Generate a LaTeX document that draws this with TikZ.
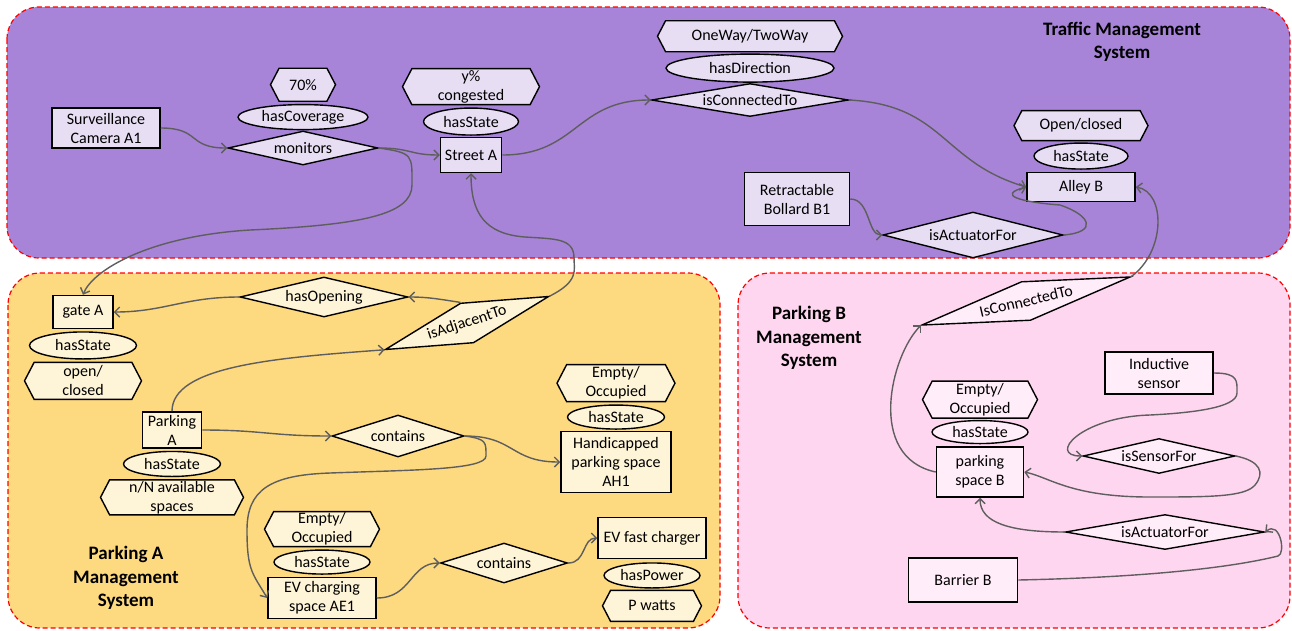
\documentclass[tikz,border=0pt]{standalone}
\usepackage{fontspec}
\setmainfont{Carlito}
\usetikzlibrary{positioning, shapes.geometric, shapes.symbols, arrows.meta}

\definecolor{trafficbg}{HTML}{A784D7}
\definecolor{trafficnode}{HTML}{E7DEF3}
\definecolor{parkAbg}{HTML}{FDD980}
\definecolor{parkAnode}{HTML}{FEF4D7}
\definecolor{parkBbg}{HTML}{FFD6F0}
\definecolor{parkBnode}{HTML}{FFEEF9}
\definecolor{linkgray}{HTML}{5E5E5E}

\begin{document}
\begin{tikzpicture}[x=1pt, y=-1pt,
    every node/.style={font=\fontsize{16}{19}\selectfont, align=center, inner sep=0pt},
    obj/.style={rectangle, draw, line width=1.5pt},
    rel/.style={diamond, aspect=5, draw, line width=1.4pt},
    prop/.style={ellipse, draw, line width=1.4pt},
    val/.style={signal, signal to=west and east, signal pointer angle=125, draw, line width=1.4pt},
    link/.style={draw=linkgray, line width=1.4pt, -{Straight Barb[length=5pt,width=10pt]}},
    zone/.style={draw=red, line width=1.2pt, dash pattern=on 5pt off 3pt, rounded corners=32pt},
    systitle/.style={font=\fontsize{19}{23.5}\selectfont\bfseries, fill=none},
]
    \useasboundingbox (0,0) rectangle (1292,630);

    % System areas
    \draw [zone, fill=trafficbg] (7,7) rectangle (1290,258);
    \draw [zone, fill=parkAbg] (8,273) rectangle (720,628);
    \draw [zone, fill=parkBbg] (738,273) rectangle (1290,628);

    % Traffic Management (Top)
    \begin{scope}[nodes={fill=trafficnode}]
        \node (trafficT) [systitle] at (1122,42) {Traffic Management\\System};
        \node (camA) [obj, minimum width=108pt, minimum height=40pt] at (106,128) {Surveillance\\Camera A1};
        \node (mon) [rel, minimum width=150pt, minimum height=34pt] at (303,148) {monitors};
        \node (hasCov) [prop, minimum width=130pt, minimum height=25pt, above=0pt of mon] {hasCoverage};
        \node (cov) [val, minimum width=65pt, minimum height=33pt, above=2pt of hasCov] {70\%};
        \node (streetA) [obj, minimum width=61pt, minimum height=35pt] at (471,155) {Street A};
        \node (stSA) [prop, minimum width=95pt, minimum height=27pt, above=1pt of streetA] {hasState};
        \node (cong) [val, minimum width=137pt, minimum height=36pt, above=2pt of stSA] {y\%\\congested};
        \node (connTo) [rel, minimum width=197pt, minimum height=33pt] at (750,100) {isConnectedTo};
        \node (hasDir) [prop, minimum width=168pt, minimum height=28pt, above=0pt of connTo] {hasDirection};
        \node (dir) [val, minimum width=185pt, minimum height=31pt, above=1pt of hasDir] {OneWay/TwoWay};
        \node (alleyB) [obj, minimum width=108pt, minimum height=29pt] at (1081,187) {Alley B};
        \node (stAB) [prop, minimum width=94pt, minimum height=26pt, above=2pt of alleyB] {hasState};
        \node (openc) [val, minimum width=134pt, minimum height=30pt, above=1pt of stAB] {Open/closed};
        \node (bollard) [obj, minimum width=105pt, minimum height=53pt] at (797,199) {Retractable\\Bollard B1};
        \node (actA) [rel, minimum width=180pt, minimum height=46pt] at (973,235) {isActuatorFor};
    \end{scope}

    % Parking A (Bottom Left)
    \begin{scope}[nodes={fill=parkAnode}]
        \node (parkAT) [systitle] at (126,578) {Parking A\\Management\\System};
        \node (gateA) [obj, minimum width=60pt, minimum height=33pt] at (83,312) {gate A};
        \node (stG) [prop, minimum width=107pt, minimum height=27pt, below=2pt of gateA] {hasState};
        \node (gstate) [val, minimum width=117pt, minimum height=37pt, below=2pt of stG] {open/\\closed};
        \node (hasOp) [rel, minimum width=168pt, minimum height=40pt] at (324,297) {hasOpening};
        \node (isAdj) [rel, minimum width=172pt, minimum height=42pt, rotate=18] at (467,323) {isAdjacentTo};
        \node (parkA) [obj, minimum width=59pt, minimum height=36pt] at (172,430) {Parking\\A};
        \node (stP) [prop, minimum width=97pt, minimum height=25pt, below=2pt of parkA] {hasState};
        \node (avail) [val, minimum width=143pt, minimum height=35pt, below=2pt of stP] {n/N available\\spaces};
        \node (cont1) [rel, minimum width=132pt, minimum height=42pt] at (398,436) {contains};
        \node (handi) [obj, minimum width=110pt, minimum height=61pt] at (616,462) {Handicapped\\parking space\\AH1};
        \node (stH) [prop, minimum width=97pt, minimum height=24pt, above=1pt of handi] {hasState};
        \node (emH) [val, minimum width=118pt, minimum height=37pt, above=2pt of stH] {Empty/\\Occupied};
        \node (evAE1) [obj, minimum width=108pt, minimum height=41pt] at (322,598) {EV charging\\space AE1};
        \node (stE) [prop, minimum width=96pt, minimum height=24pt, above=2pt of evAE1] {hasState};
        \node (emE) [val, minimum width=115pt, minimum height=35pt, above=2pt of stE] {Empty/\\Occupied};
        \node (cont2) [rel, minimum width=127pt, minimum height=40pt] at (504,563) {contains};
        \node (evfc) [obj, minimum width=108pt, minimum height=41pt] at (652,538) {EV fast charger};
        \node (hasPow) [prop, minimum width=96pt, minimum height=25pt, below=3pt of evfc] {hasPower};
        \node (pw) [val, minimum width=99pt, minimum height=31pt, below=1pt of hasPow] {P watts};
    \end{scope}

    % Parking B (Bottom Right)
    \begin{scope}[nodes={fill=parkBnode}]
        \node (parkBT) [systitle] at (809,338) {Parking B\\Management\\System};
        \node (isConB) [rel, minimum width=214pt, minimum height=40pt, rotate=13] at (1026,301) {IsConnectedTo};
        \node (indS) [obj, minimum width=108pt, minimum height=42pt] at (1159,373) {Inductive\\sensor};
        \node (psB) [obj, minimum width=87pt, minimum height=50pt] at (980,472) {parking\\space B};
        \node (stB) [prop, minimum width=96pt, minimum height=23pt, above=2pt of psB] {hasState};
        \node (emB) [val, minimum width=115pt, minimum height=37pt, above=1pt of stB] {Empty/\\Occupied};
        \node (isSF) [rel, minimum width=152pt, minimum height=35pt] at (1159,456) {isSensorFor};
        \node (actB) [rel, minimum width=199pt, minimum height=35pt] at (1165,532) {isActuatorFor};
        \node (barB) [obj, minimum width=109pt, minimum height=44pt] at (963,580) {Barrier B};
    \end{scope}

    % Connectors (Top)
    \draw [link] (camA.east) .. controls +(40,0) and +(-40,0) .. (mon.west);
    \draw [link] (mon.east) .. controls +(32,0) and +(-30,0) .. (streetA.west);
    \draw [link] (mon.east) .. controls +(35,5) and +(0,-30) .. (412,185)
        .. controls +(0,30) and +(110,-5) .. (250,230)
        .. controls +(-100,6) and +(10,-25) .. (gateA.north);
    \draw [link] (streetA.east) .. controls +(75,0) and +(-75,0) .. (connTo.west);
    \draw [link] (connTo.east) .. controls +(95,5) and +(-85,-25) .. (alleyB.west);
    \draw [link] (bollard.east) .. controls +(20,0) and +(-15,0) .. (actA.west);
    \draw [link] (actA.east) .. controls +(35,-3) and +(30,10) .. (1060,205)
        .. controls +(-40,-3) and +(-30,8) .. (alleyB.west);
    \draw [link] (isConB.east) .. controls +(35,-25) and +(30,5) .. (alleyB.east);
    \draw [link] (isAdj.east) .. controls +(30,-15) and +(0,12) .. (574,258)
        .. controls +(0,-20) and +(30,2) .. (525,237)
        .. controls +(-40,-3) and +(0,40) .. (streetA.south);

    % Connectors (Parking A)
    \draw [link] (isAdj.north) .. controls +(-20,-3) and +(20,0) .. (hasOp.east);
    \draw [link] (hasOp.west) .. controls +(-55,0) and +(50,0) .. (gateA.east);
    \draw [link] (parkA.north) .. controls +(0,-45) and +(-110,8) .. (isAdj.west);
    \draw [link] (parkA.east) .. controls +(60,0) and +(-60,0) .. (cont1.west);
    \draw [link] (cont1.east) .. controls +(50,0) and +(-50,0) .. (handi.west);
    \draw [link] (cont1.east) .. controls +(22,3) and +(0,-14) .. (486,456)
        .. controls +(0,14) and +(80,-3) .. (330,473)
        .. controls +(-60,2) and +(0,-40) .. (247,530)
        .. controls +(0,40) and +(-15,-25) .. (evAE1.west);
    \draw [link] (evAE1.east) .. controls +(35,0) and +(-30,0) .. (cont2.west);
    \draw [link] (cont2.east) .. controls +(18,0) and +(-15,0) .. (evfc.west);

    % Connectors (Parking B)
    \draw [link] (psB.west) .. controls +(-70,-15) and +(-30,30) .. (isConB.west);
    \draw [link] (indS.east) .. controls +(25,0) and +(0,-12) .. (1237,393)
        .. controls +(0,15) and +(40,-2) .. (1150,415)
        .. controls +(-70,2) and +(-35,0) .. (isSF.west);
    \draw [link] (isSF.east) .. controls +(25,5) and +(10,-12) .. (1255,485)
        .. controls +(-10,12) and +(60,0) .. (1150,497)
        .. controls +(-80,0) and +(25,5) .. (psB.east);
    \draw [link] (barB.east) .. controls +(140,-3) and +(-40,10) .. (1278,556)
        .. controls +(8,-2) and +(15,-12) .. (actB.east);
    \draw [link] (actB.west) .. controls +(-55,0) and +(0,25) .. (psB.south);

\end{tikzpicture}
\end{document}
